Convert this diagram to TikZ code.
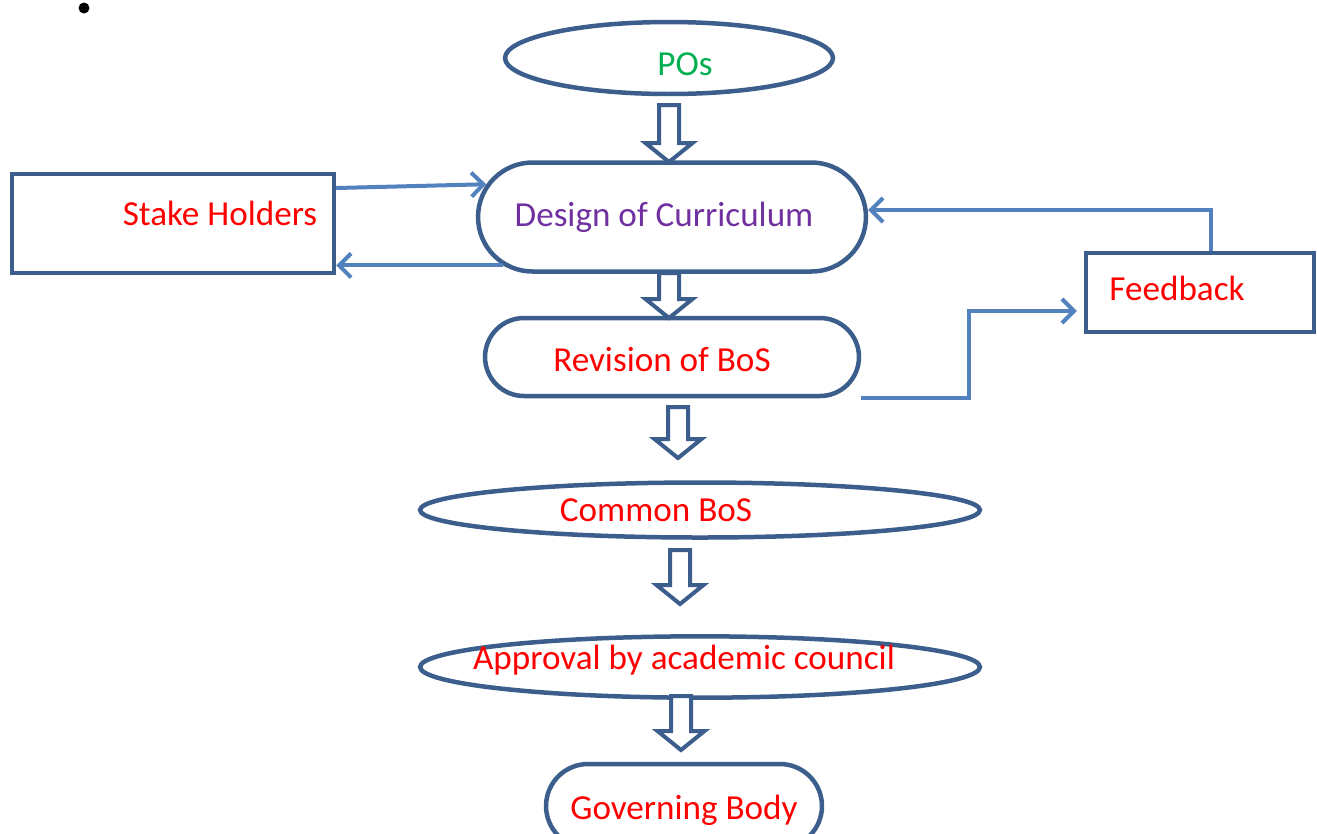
\documentclass[tikz,border=0pt]{standalone}
\usepackage{fontspec}
\setmainfont{Carlito}
\usetikzlibrary{shapes,arrows.meta}
\definecolor{shapeblue}{RGB}{59,94,140}
\definecolor{linkblue}{RGB}{82,130,190}
\definecolor{posgreen}{RGB}{0,176,80}
\definecolor{designpurple}{RGB}{112,48,160}

\newcommand{\centred}[1]{\makebox[0pt]{#1}}

\begin{document}
\begin{tikzpicture}[x=0.02cm,y=-0.02cm,
    every node/.style={font=\fontsize{20}{24}\selectfont,inner sep=0pt},
    oval/.style={ellipse,draw=shapeblue,line width=0.9mm,text=red},
    pill/.style={rounded rectangle,draw=shapeblue,line width=0.9mm,text=red},
    box/.style={rectangle,draw=shapeblue,line width=0.9mm,text=red},
    link/.style={draw=linkblue,line width=0.8mm,-{Straight Barb[length=2.4mm,width=4.8mm]}},
    pics/downarrow/.style={code={
        \draw[shapeblue,line width=0.8mm,line join=miter,fill=white]
            (-10,0) -- (10,0) -- (10,#1-19) -- (23.5,#1-19) -- (0,#1)
            -- (-23.5,#1-19) -- (-10,#1-19) -- cycle;}}]
    \useasboundingbox (0,0) rectangle (1317,833);

    \begin{scope}
        \node[circle,fill=black,minimum size=2.2mm] (dot) at (84,8) {};
        \node[oval,minimum width=6.56cm,minimum height=1.44cm,text=posgreen,text height=7.2mm] (pos) at (669,58) {\centred{\hspace*{6.4mm}POs}};
        \node[pill,minimum width=7.76cm,minimum height=2.18cm,text=designpurple] (design) at (672,217) {\centred{Design of Curriculum\hspace*{3.2mm}}};
        \node[pill,minimum width=7.48cm,minimum height=1.56cm,text height=5.8mm] (revision) at (672,357) {\centred{Revision of BoS\hspace*{4mm}}};
        \node[oval,minimum width=11.2cm,minimum height=1.1cm] (common) at (700,510) {\centred{Common BoS\hspace*{17.6mm}}};
        \node[oval,minimum width=11.2cm,minimum height=1.08cm,text depth=3.8mm] (approval) at (700,667) {\centred{Approval by academic council\hspace*{6.4mm}}};
        \node[pill,minimum width=5.52cm,minimum height=1.68cm,text height=6.6mm] (governing) at (684,806) {\centred{Governing Body}};
        \node[box,minimum width=6.44cm,minimum height=1.98cm,text depth=4mm] (stake) at (173,223.5) {\centred{\hspace*{18.8mm}Stake Holders}};
        \node[box,minimum width=4.56cm,minimum height=1.58cm,text depth=1.6mm] (feedback) at (1200,292.5) {\centred{Feedback\hspace*{9.2mm}}};
    \end{scope}

    % block arrows down the middle
    \pic at (669,105) {downarrow=57};
    \pic at (669,273) {downarrow=45};
    \pic at (678,407) {downarrow=51};
    \pic at (680,550) {downarrow=54};
    \pic at (681,696) {downarrow=54};

    \begin{scope}
        \path[link] ([yshift=0.71cm]stake.east) -- (design.170);
        \path[link] (design.196) -- (design.196 -| stake.east);
        \path[link] ([xshift=0.22cm]feedback.north) |- ([yshift=0.14cm]design.east);
        \path[link,shorten >=1.4mm] (revision.south -| revision.east) -- ++(108,0) |- ([yshift=-0.37cm]feedback.west);
    \end{scope}
\end{tikzpicture}
\end{document}
